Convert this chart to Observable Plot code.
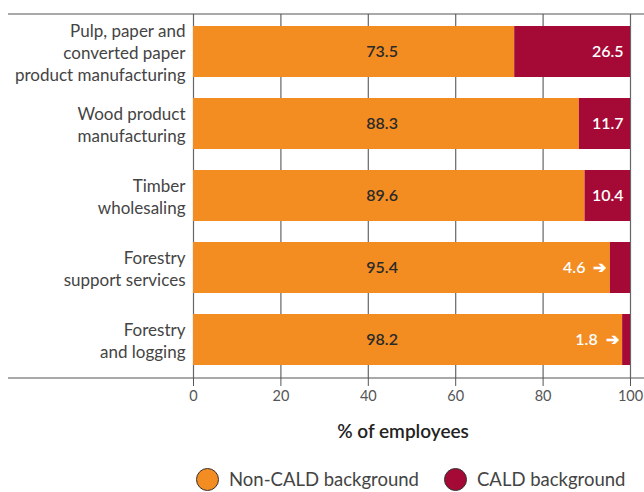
<!DOCTYPE html>
<html>
<head>
<meta charset="utf-8">
<script src="https://cdn.jsdelivr.net/npm/d3@7"></script>
<script src="https://cdn.jsdelivr.net/npm/@observablehq/plot@0.6"></script>
<style>
  body { margin: 0; background: #fff; font-family: Lato, "Open Sans", sans-serif; }
  .legend { position: relative; height: 34px; font-size: 18.5px; color: #444; white-space: nowrap; }
  .legend .item { position: absolute; top: 0; height: 34px; display: flex; align-items: center; }
  .legend .sw { width: 21px; height: 21px; border-radius: 50%; border: 1px solid #333; margin-right: 10px; flex: none; }
</style>
</head>
<body>
<div id="chart"></div>
<script>
const categories = [
  "Pulp, paper and\nconverted paper\nproduct manufacturing",
  "Wood product\nmanufacturing",
  "Timber\nwholesaling",
  "Forestry\nsupport services",
  "Forestry\nand logging"
];
const nonCald = [73.5, 88.3, 89.6, 95.4, 98.2];
const cald = [26.5, 11.7, 10.4, 4.6, 1.8];
const seriesNames = ["Non-CALD background", "CALD background"];
const seriesColors = ["#F38D22", "#A50936"];
const xTicks = [0, 20, 40, 60, 80, 100];

const rows = [];
categories.forEach((c, i) => {
  rows.push({cat: c, series: seriesNames[0], value: nonCald[i], order: 0});
  rows.push({cat: c, series: seriesNames[1], value: cald[i], order: 1});
});
const nonRows = categories.map((c, i) => ({cat: c, value: nonCald[i]}));
const caldRows = categories.map((c, i) => ({cat: c, value: cald[i], non: nonCald[i]}));
const bigCald = caldRows.filter(d => d.value >= 10);
const smallCald = caldRows.filter(d => d.value < 10);

const W = 644, H = 462;

const fullLine = (yVal) => (index, scales, values, dims) => {
  const y = yVal === "top" ? dims.marginTop : dims.height - dims.marginBottom;
  const g = d3.create("svg:line")
    .attr("x1", 8).attr("x2", dims.width)
    .attr("y1", y).attr("y2", y)
    .attr("stroke", "#555").attr("stroke-width", 1.2);
  return g.node();
};

const chart = Plot.plot({
  width: W,
  height: H,
  marginLeft: 193,
  marginRight: 14,
  marginTop: 14,
  marginBottom: H - 378,
  style: {fontFamily: "Lato, 'Open Sans', sans-serif", color: "#444", background: "#fff"},
  x: {domain: [0, 100], ticks: xTicks},
  y: {domain: categories, paddingInner: 0.286, paddingOuter: 0.143},
  color: {domain: seriesNames, range: seriesColors},
  marks: [
    Plot.ruleX(xTicks, {x: d => d, stroke: "#666", strokeWidth: 1.2}),
    Plot.barX(rows, Plot.stackX({y: "cat", x: "value", fill: "series", order: "order"})),
    Plot.axisX({ticks: xTicks, tickSize: 8, tickPadding: 4, fontSize: 14.5, color: "#555", stroke: "#555", label: null}),
    Plot.axisY({tickSize: 0, tickPadding: 8, fontSize: 17, lineHeight: 1.3, color: "#444", label: null}),
    Plot.text(nonRows, {y: "cat", x: 40, text: d => d.value.toFixed(1), textAnchor: "start", dx: -2, fill: "#2a2a2a", fontSize: 16, fontWeight: 600}),
    Plot.text(bigCald, {y: "cat", x: 100, text: d => d.value.toFixed(1), textAnchor: "end", dx: -7, fill: "#fff", fontSize: 16, fontWeight: 600}),
    Plot.text(smallCald, {y: "cat", x: "non", text: d => d.value.toFixed(1) + "  \u2794", textAnchor: "end", dx: -4, fill: "#fff", fontSize: 16, fontWeight: 600}),
    Plot.text(["% of employees"], {frameAnchor: "bottom", dy: 59, dx: -9, text: d => d, fontSize: 19, fontWeight: 600, fill: "#222"}),
    fullLine("top"),
    fullLine("bottom")
  ]
});
document.getElementById("chart").appendChild(chart);

const legendLeft = [196, 444];
const legend = document.createElement("div");
legend.className = "legend";
seriesNames.forEach((s, i) => {
  const it = document.createElement("div");
  it.className = "item";
  it.style.left = legendLeft[i] + "px";
  const sw = document.createElement("span");
  sw.className = "sw";
  sw.style.background = seriesColors[i];
  const tx = document.createElement("span");
  tx.textContent = s;
  it.appendChild(sw); it.appendChild(tx);
  legend.appendChild(it);
});
document.body.appendChild(legend);
</script>
</body>
</html>
